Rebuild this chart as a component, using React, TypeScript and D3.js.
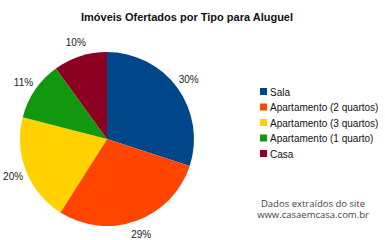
import React from "react";
import * as d3 from "d3";

const categories = ["Sala", "Apartamento (2 quartos)", "Apartamento (3 quartos)", "Apartamento (1 quarto)", "Casa"];
const values = [30, 29, 20, 11, 10];
const colors = ["#02468A", "#FF4500", "#FFD200", "#12980F", "#8C0021"];
const title = "Imóveis Ofertados por Tipo para Aluguel";
const footer = ["Dados extraídos do site", "www.casaemcasa.com.br"];

export default function App() {
  const W = 385, H = 240;
  const cx = 107, cy = 139, r = 87, lr = 101;
  const pie = d3.pie<number>().sort(null).value((d) => d)(values);
  const arc = d3.arc<d3.PieArcDatum<number>>().innerRadius(0).outerRadius(r);
  const labelArc = d3.arc<d3.PieArcDatum<number>>().innerRadius(lr).outerRadius(lr);
  const total = d3.sum(values);
  const legendY = d3.scaleLinear().domain([0, 1]).range([92, 107.5]);
  return (
    <svg width={W} height={H} style={{ position: "absolute", left: 0, top: 0, background: "#fff" }}
      fontFamily="'Liberation Sans', Arial, sans-serif">
      <text x={187} y={21} textAnchor="middle" fontSize={11} fontWeight="bold" fill="#111">{title}</text>
      <g transform={`translate(${cx},${cy})`}>
        {pie.map((p, i) => (
          <path key={i} d={arc(p) || ""} fill={colors[i]} />
        ))}
        {pie.map((p, i) => {
          const [x, y] = labelArc.centroid(p);
          return (
            <text key={"l" + i} x={x} y={y} dy="0.35em" textAnchor="middle" fontSize={10} fill="#222">
              {Math.round((values[i] / total) * 100)}%
            </text>
          );
        })}
      </g>
      {categories.map((c, i) => (
        <g key={c} transform={`translate(260,${legendY(i)})`}>
          <rect x={0} y={-4} width={7} height={7} fill={colors[i]} />
          <text x={10} y={0} dy="0.35em" fontSize={10} fill="#111">{c}</text>
        </g>
      ))}
      {footer.map((t, i) => (
        <text key={t} x={313} y={206.5 + i * 11.5} textAnchor="middle" fontSize={9.5} fill="#444"
          fontFamily="'Open Sans', sans-serif">{t}</text>
      ))}
    </svg>
  );
}
